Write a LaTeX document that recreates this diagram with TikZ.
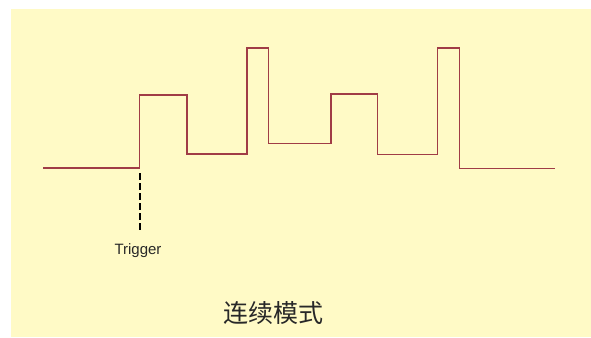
\documentclass[tikz,border=0pt]{standalone}
\usepackage{fontspec}
\setmainfont{Liberation Sans}
\newfontfamily\cjk{Noto Sans CJK SC}
\definecolor{bgyellow}{RGB}{255,250,198}
\definecolor{wave}{RGB}{160,60,70}
\definecolor{txt}{RGB}{40,40,40}
\begin{document}
\begin{tikzpicture}[x=1pt,y=-1pt,
  wavestyle/.style={draw=wave,line width=1.5pt,line join=miter},
  trigline/.style={draw=black,line width=2.8pt,dash pattern=on 7pt off 3pt},
  lbl/.style={text=txt,inner sep=0pt}]
\useasboundingbox (0,0) rectangle (591,337);
\fill[bgyellow] (10.5,9.5) rectangle (591,337);
\draw[wavestyle] (43,168) -- (139.5,168) -- (139.5,95) -- (187,95) -- (187,154)
  -- (247,154) -- (247,48) -- (268.5,48) -- (268.5,143.5) -- (331,143.5)
  -- (331,94) -- (377.5,94) -- (377.5,154.5) -- (437.5,154.5) -- (437.5,48)
  -- (459.5,48) -- (459.5,168.5) -- (554.5,168.5);
\coordinate (trigtop) at (140,173);
\coordinate (trigbot) at (140,233);
\draw[trigline] (trigtop) -- (trigbot);
\node[lbl,font=\fontsize{15}{17}\selectfont] (trig) at (138,251) {Trigger};
\node[lbl,font=\cjk\fontsize{25}{28}\selectfont] (mode) at (273,313) {连续模式};
\end{tikzpicture}
\end{document}
